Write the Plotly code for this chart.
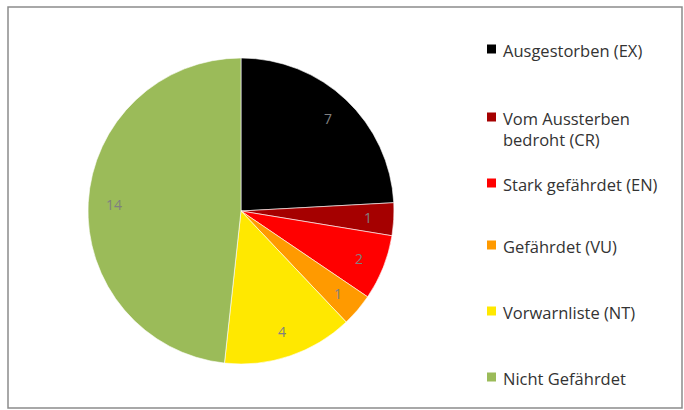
import math
import plotly.graph_objects as go

labels = ["Ausgestorben (EX)", "Vom Aussterben<br>bedroht (CR)", "Stark gefährdet (EN)",
          "Gefährdet (VU)", "Vorwarnliste (NT)", "Nicht Gefährdet"]
values = [7, 1, 2, 1, 4, 14]
colors = ["#000000", "#A50000", "#FF0000", "#FF9A00", "#FFE800", "#9BBB59"]
legend_y = [49, 117, 183, 245, 311, 377]  # pixel rows of legend entries

W, H = 684, 410
PX0, PX1, PY0, PY1 = 88, 394, 58, 364  # pie bounding box in pixels
cx, cy, R = (PX0 + PX1) / 2, (PY0 + PY1) / 2, (PX1 - PX0) / 2
LABEL_R = 0.83

fig = go.Figure(go.Pie(
    labels=labels, values=values, sort=False, direction="clockwise", rotation=0,
    marker=dict(colors=colors, line=dict(color="white", width=0.6)),
    textinfo="none",
    domain=dict(x=[PX0 / W, PX1 / W], y=[1 - PY1 / H, 1 - PY0 / H]),
    showlegend=False, hoverinfo="label+value",
))

shapes = [dict(type="rect", xref="paper", yref="paper",
               x0=8 / W, x1=682 / W, y0=1 - 408 / H, y1=1 - 7 / H,
               line=dict(color="#8c8c8c", width=1.5), fillcolor="rgba(0,0,0,0)")]
annotations = []

# value labels placed at the slice mid-angles
total = sum(values)
cum = 0
for v in values:
    mid = (cum + v / 2) / total * 2 * math.pi
    cum += v
    px = cx + LABEL_R * R * math.sin(mid)
    py = cy - LABEL_R * R * math.cos(mid)
    annotations.append(dict(text=str(v), xref="paper", yref="paper", x=px / W, y=1 - py / H,
                            xanchor="center", yanchor="middle", showarrow=False,
                            font=dict(family="Open Sans", size=14, color="#808080")))

for lab, col, yy in zip(labels, colors, legend_y):
    shapes.append(dict(type="rect", xref="paper", yref="paper",
                       x0=487 / W, x1=496 / W, y0=1 - (yy + 4.5) / H, y1=1 - (yy - 4.5) / H,
                       line=dict(width=0), fillcolor=col))
    annotations.append(dict(text=lab, xref="paper", yref="paper", x=501 / W,
                            y=1 - (yy - 12) / H, xanchor="left", yanchor="top",
                            showarrow=False, align="left",
                            font=dict(family="Open Sans", size=16.5, color="#333333")))

fig.update_layout(width=W, height=H, margin=dict(l=0, r=0, t=0, b=0),
                  paper_bgcolor="white", plot_bgcolor="white",
                  shapes=shapes, annotations=annotations)
fig.write_html("out.html")
